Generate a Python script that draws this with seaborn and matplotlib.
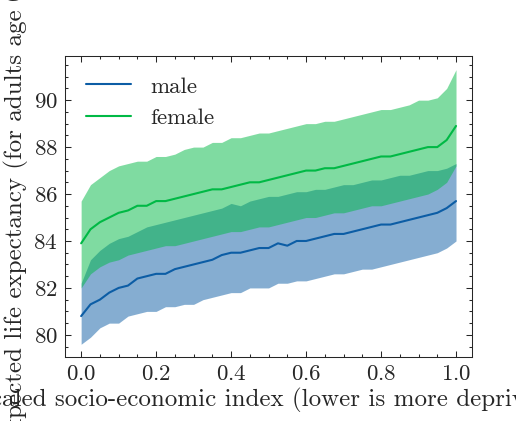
import numpy as np
import pandas as pd
import seaborn as sns
import matplotlib.pyplot as plt

sns.set_theme(style="ticks")
plt.rcParams.update({
    "font.family": ["cmr10", "DejaVu Serif"],
    "mathtext.fontset": "cm",
    "axes.formatter.use_mathtext": True,
    "font.size": 7.6,
    "xtick.direction": "in", "ytick.direction": "in",
    "xtick.top": True, "ytick.right": True,
    "xtick.minor.visible": True, "ytick.minor.visible": True,
    "xtick.major.size": 3, "ytick.major.size": 3,
    "xtick.minor.size": 1.5, "ytick.minor.size": 1.5,
    "axes.linewidth": 0.5, "xtick.major.width": 0.5, "ytick.major.width": 0.5,
    "xtick.minor.width": 0.5, "ytick.minor.width": 0.5,
})

# scaled index, 41 points
x = [i / 40 for i in range(41)]

male_mean = [80.8, 81.3, 81.5, 81.8, 82.0, 82.1, 82.4, 82.5, 82.6, 82.6, 82.8,
             82.9, 83.0, 83.1, 83.2, 83.4, 83.5, 83.5, 83.6, 83.7, 83.7, 83.9,
             83.8, 84.0, 84.0, 84.1, 84.2, 84.3, 84.3, 84.4, 84.5, 84.6, 84.7,
             84.7, 84.8, 84.9, 85.0, 85.1, 85.2, 85.4, 85.7]
male_low = [79.6, 79.9, 80.3, 80.5, 80.5, 80.8, 80.9, 81.0, 81.0, 81.2, 81.2,
            81.3, 81.3, 81.5, 81.6, 81.7, 81.8, 81.8, 82.0, 82.0, 82.0, 82.2,
            82.2, 82.3, 82.3, 82.4, 82.5, 82.6, 82.6, 82.7, 82.8, 82.8, 82.9,
            83.0, 83.1, 83.2, 83.3, 83.4, 83.5, 83.7, 84.0]
male_high = [82.2, 83.2, 83.6, 83.9, 84.1, 84.2, 84.4, 84.6, 84.7, 84.8, 84.9,
             85.0, 85.1, 85.2, 85.3, 85.4, 85.6, 85.5, 85.7, 85.8, 85.9, 85.9,
             86.0, 86.1, 86.1, 86.2, 86.2, 86.3, 86.4, 86.4, 86.5, 86.6, 86.6,
             86.7, 86.8, 86.8, 86.9, 87.0, 87.0, 87.1, 87.3]
female_mean = [83.9, 84.5, 84.8, 85.0, 85.2, 85.3, 85.5, 85.5, 85.7, 85.7, 85.8,
               85.9, 86.0, 86.1, 86.2, 86.2, 86.3, 86.4, 86.5, 86.5, 86.6, 86.7,
               86.8, 86.9, 87.0, 87.0, 87.1, 87.1, 87.2, 87.3, 87.4, 87.5, 87.6,
               87.6, 87.7, 87.8, 87.9, 88.0, 88.0, 88.3, 88.9]
female_low = [82.0, 82.6, 82.9, 83.1, 83.2, 83.4, 83.5, 83.6, 83.7, 83.8, 83.8,
              83.9, 84.0, 84.1, 84.2, 84.3, 84.4, 84.4, 84.5, 84.6, 84.6, 84.7,
              84.8, 84.9, 85.0, 85.0, 85.1, 85.2, 85.2, 85.3, 85.4, 85.5, 85.5,
              85.6, 85.7, 85.8, 85.9, 86.0, 86.2, 86.5, 87.2]
female_high = [85.7, 86.4, 86.7, 87.0, 87.2, 87.3, 87.4, 87.4, 87.6, 87.6, 87.7,
               87.9, 88.0, 88.0, 88.2, 88.2, 88.4, 88.4, 88.5, 88.6, 88.6, 88.7,
               88.8, 88.9, 89.0, 89.0, 89.1, 89.1, 89.2, 89.3, 89.4, 89.5, 89.6,
               89.6, 89.7, 89.8, 90.0, 90.0, 90.1, 90.5, 91.3]

df = pd.DataFrame({
    "x": x * 2,
    "value": male_mean + female_mean,
    "sex": ["male"] * len(x) + ["female"] * len(x),
})
palette = {"male": "#0C5DA5", "female": "#00B945"}

fig, ax = plt.subplots(figsize=(3.44, 2.81), dpi=150)
ax.fill_between(x, male_low, male_high, color=palette["male"], alpha=0.5, lw=0)
ax.fill_between(x, female_low, female_high, color=palette["female"], alpha=0.5, lw=0)
sns.lineplot(data=df, x="x", y="value", hue="sex", palette=palette, ax=ax, lw=1)

ax.set_xlim(-0.043, 1.043)
ax.set_ylim(79.06, 91.9)
ax.set_xticks([0, 0.2, 0.4, 0.6, 0.8, 1.0])
ax.set_yticks([80, 82, 84, 86, 88, 90])
ax.set_xlabel("Scaled socio-economic index (lower is more deprived)", labelpad=2)
ax.set_ylabel("Expected life expectancy (for adults age 65)", labelpad=2)
ax.legend(frameon=False, title=None, loc="upper left")

fig.subplots_adjust(left=0.126, right=0.915, top=0.867, bottom=0.152)
fig.savefig("out.png", dpi=150)
